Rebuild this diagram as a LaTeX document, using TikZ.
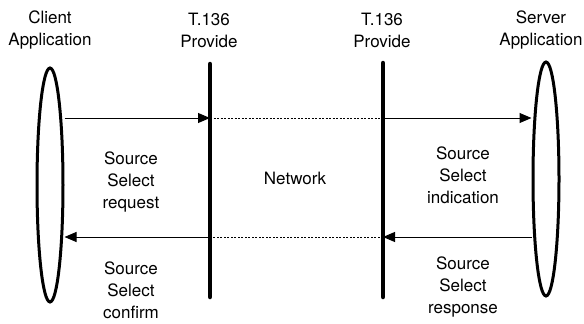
\documentclass[tikz,border=0pt]{standalone}
\usepackage{fontspec}
\setmainfont{TeX Gyre Heros}
\usetikzlibrary{shapes.geometric,arrows.meta}

\tikzset{
    app/.style={draw, ellipse, line width=3pt, minimum width=26pt, minimum height=234pt, inner sep=0pt},
    provider/.style={line width=4.5pt, line cap=round},
    msg/.style={line width=1pt, -{Triangle[length=12pt,width=10pt]}},
    net/.style={line width=0.8pt, dash pattern=on 2pt off 1.5pt},
    lbl/.style={align=center, font=\fontsize{17}{22}\selectfont}
}

\begin{document}
\begin{tikzpicture}[x=1pt, y=-1pt]
    \useasboundingbox (0,0) rectangle (584,324);

    % Applications
    \node[app] (client) at (50,185) {};
    \node[app] (server) at (546,179) {};

    % T.136 providers
    \coordinate (pLtop) at (210,64);
    \coordinate (pLbot) at (210,297);
    \coordinate (pRtop) at (383,63);
    \coordinate (pRbot) at (383,297);
    \draw[provider] (pLtop) -- (pLbot);
    \draw[provider] (pRtop) -- (pRbot);

    % Headings
    \node[lbl] (clientlbl) at (50,30) {Client\\Application};
    \node[lbl] (pLlbl) at (209,30) {T.136\\Provide};
    \node[lbl] (pRlbl) at (382,30) {T.136\\Provide};
    \node[lbl] (serverlbl) at (541,30) {Server\\Application};

    % Request / indication
    \coordinate (reqL) at (210,118);
    \coordinate (reqR) at (383,118);
    \draw[msg] (client.east |- reqL) -- (reqL);
    \draw[net] (reqL) -- (reqR);
    \draw[msg] (reqR) -- (server.west |- reqR);

    % Response / confirm
    \coordinate (rspL) at (210,237);
    \coordinate (rspR) at (383,237);
    \draw[msg] (server.west |- rspR) -- (rspR);
    \draw[net] (rspR) -- (rspL);
    \draw[msg] (rspL) -- (client.east |- rspL);

    % Primitive labels
    \node[lbl] (request) at (131,182) {Source\\Select\\request};
    \node[lbl] (confirm) at (131,290) {Source\\Select\\confirm};
    \node[lbl] (network) at (295,178) {Network};
    \node[lbl] (indication) at (463,175) {Source\\Select\\indication};
    \node[lbl] (response) at (463,287) {Source\\Select\\response};
\end{tikzpicture}
\end{document}
